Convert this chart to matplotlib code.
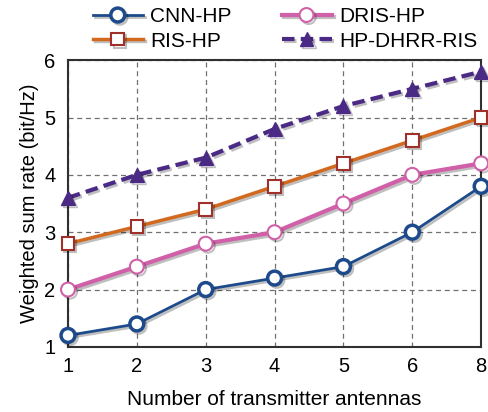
import matplotlib.pyplot as plt
import matplotlib.patheffects as pe

antennas = ['1', '2', '3', '4', '5', '6', '8']
cnn_hp = [1.2, 1.4, 2.0, 2.2, 2.4, 3.0, 3.8]
dris_hp = [2.0, 2.4, 2.8, 3.0, 3.5, 4.0, 4.2]
ris_hp = [2.8, 3.1, 3.4, 3.8, 4.2, 4.6, 5.0]
hp_dhrr_ris = [3.6, 4.0, 4.3, 4.8, 5.2, 5.5, 5.8]

plt.rcParams['font.family'] = ['Liberation Sans', 'DejaVu Sans']

fig = plt.figure(figsize=(4.89, 4.12), dpi=100)
ax = fig.add_axes([0.139, 0.158, 0.845, 0.696])

x = list(range(len(antennas)))
shadow = [pe.SimpleLineShadow(offset=(1.5, -1.5), alpha=0.25), pe.Normal()]

ax.plot(x, cnn_hp, '-o', color='#1d4a8a', lw=2, ms=10, mfc='white', mec='#1d4a8a',
        mew=2.5, label='CNN-HP', path_effects=shadow, clip_on=False, zorder=3)
ax.plot(x, ris_hp, '-s', color='#d2691e', lw=2.5, ms=9, mfc='white', mec='#a0302a',
        mew=1.5, label='RIS-HP', path_effects=shadow, clip_on=False, zorder=3)
ax.plot(x, dris_hp, '-o', color='#d060a8', lw=3, ms=10, mfc='white', mec='#d060a8',
        mew=1.5, label='DRIS-HP', path_effects=shadow, clip_on=False, zorder=3)
ax.plot(x, hp_dhrr_ris, '--^', color='#4a2a85', lw=3, ms=10, mfc='#4a2a85', mec='#4a2a85',
        dashes=(3, 1.5), label='HP-DHRR-RIS', path_effects=shadow, clip_on=False, zorder=3)

ax.set_xlim(0, 6)
ax.set_ylim(1, 6)
ax.set_xticks(x)
ax.set_xticklabels(antennas)
ax.set_yticks([1, 2, 3, 4, 5, 6])
ax.tick_params(labelsize=14.5, direction='in', length=0, width=1.2)
ax.tick_params(axis='y', pad=9)
ax.tick_params(axis='x', pad=7)
ax.grid(True, ls=(0, (4, 3)), color='#707070', lw=0.9)
for s in ax.spines.values():
    s.set_linewidth(1.5)
    s.set_color('#303030')

ax.set_xlabel('Number of transmitter antennas', fontsize=15, labelpad=10)
ax.set_ylabel('Weighted sum rate (bit/Hz)', fontsize=14.5, labelpad=4)

ax.legend(loc='lower center', bbox_to_anchor=(0.525, 0.99), ncol=2, frameon=False,
          fontsize=15, handlelength=2.4, columnspacing=2.4, labelspacing=0.25,
          borderaxespad=0.2, handletextpad=0.35)

fig.savefig('out.png', dpi=100)
